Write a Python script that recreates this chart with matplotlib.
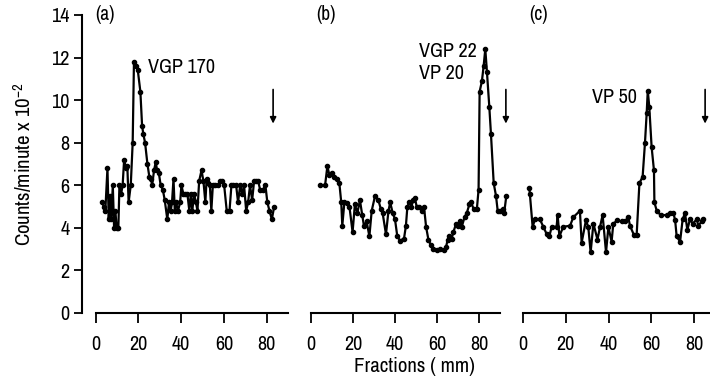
import matplotlib
matplotlib.use("Agg")
import matplotlib.pyplot as plt
from matplotlib import font_manager

# a narrow face is closest to the original typesetting, if one is installed
narrow = [f.name for f in font_manager.fontManager.ttflist
          if "Narrow" in f.name or "Condensed" in f.name]
plt.rcParams["font.family"] = narrow[:1] + ["DejaVu Sans"]
plt.rcParams["font.stretch"] = "condensed"
plt.rcParams["mathtext.default"] = "regular"

# ---- data: fraction number vs counts/minute x 10^-2 ----
a_x = [2.8, 3.9, 4.5, 5.5, 6.1, 6.7, 7.3, 8.0, 8.6, 9.2, 9.8, 10.6, 11.1, 11.9,
       12.6, 13.3, 14.2, 14.8, 15.4, 16.4, 17.3, 17.9, 18.7, 19.7, 20.9, 21.7,
       22.3, 23.1, 24.2, 25.1, 25.9, 26.4, 27.3, 28.1, 28.7, 29.5, 30.4, 31.4,
       32.3, 33.5, 34.3, 35.1, 35.7, 36.4, 37.0, 37.6, 38.5, 39.5, 40.1, 41.0,
       42.0, 42.9, 43.8, 44.5, 45.2, 46.0, 46.9, 47.6, 48.4, 49.5, 50.4, 51.3,
       51.9, 52.6, 53.4, 54.1, 54.8, 56.0, 57.3, 58.2, 59.1, 60.1, 61.3, 62.6,
       63.5, 64.4, 65.7, 66.6, 67.6, 68.5, 69.4, 70.4, 71.3, 72.2, 73.2, 74.1,
       75.0, 76.0, 76.9, 78.2, 79.4, 80.3, 81.3, 82.4, 83.5]
a_y = [5.2, 5.0, 4.8, 6.8, 4.4, 5.5, 4.4, 6.0, 4.0, 4.8, 4.0, 4.0, 6.0, 5.6,
       6.0, 7.2, 6.8, 6.9, 5.2, 6.0, 8.0, 11.8, 11.6, 11.4, 10.4, 8.8,
       8.4, 8.0, 7.0, 6.4, 6.3, 6.0, 6.7, 7.1, 6.7, 6.6, 6.0, 5.8,
       5.3, 4.4, 5.2, 4.8, 5.2, 6.3, 4.8, 5.2, 4.8, 5.2, 6.0, 5.6,
       5.6, 5.6, 4.8, 5.6, 4.8, 5.6, 5.2, 4.8, 6.2, 6.7, 6.2, 5.2,
       6.3, 6.1, 6.0, 4.8, 6.0, 6.0, 6.0, 6.2, 6.2, 6.0, 4.8, 4.8,
       6.0, 6.0, 6.0, 5.2, 6.0, 5.6, 6.0, 4.8, 5.2, 6.0, 5.3, 6.2,
       6.2, 6.2, 5.8, 5.8, 6.0, 5.2, 4.8, 4.4, 5.0]

b_x = [4.3, 6.7, 7.8, 8.7, 9.8, 11.0, 12.2, 13.5, 14.4, 14.9, 15.9, 17.0,
       18.3, 19.8, 20.9, 22.1, 23.3, 24.4, 25.2, 26.5, 27.8, 28.9, 30.5,
       32.1, 33.2, 34.1, 35.7, 36.9, 37.7, 38.9, 40.0, 41.1, 42.4, 44.3,
       45.2, 45.9, 46.8, 47.8, 48.7, 49.5, 50.3, 51.6, 52.7, 53.8, 54.8,
       55.9, 57.0, 58.3, 59.9, 61.5, 63.1, 64.3, 65.1, 65.9, 67.0, 67.8,
       69.1, 70.2, 71.0, 71.8, 73.1, 74.2, 75.4, 76.2, 77.4, 79.0, 79.8,
       80.3, 81.4, 82.2, 83.0, 83.8, 84.9, 85.7, 87.0, 88.1, 88.9, 90.2,
       91.4, 92.0, 93.0]
b_y = [6.0, 6.0, 6.9, 6.5, 6.6, 6.4, 6.3, 6.1, 5.2, 4.1, 5.2, 5.15,
       5.0, 3.8, 5.1, 4.7, 5.3, 4.6, 4.1, 4.3, 3.6, 4.8, 5.5,
       5.3, 4.9, 4.7, 3.7, 4.8, 5.2, 4.7, 4.4, 3.6, 3.4, 3.5,
       4.1, 5.0, 5.2, 5.0, 5.3, 5.4, 5.0, 5.0, 4.8, 5.0, 4.05,
       3.45, 3.2, 3.0, 2.95, 3.0, 2.95, 3.1, 3.45, 3.6, 3.5, 3.8,
       4.2, 4.1, 4.3, 4.05, 4.5, 4.7, 5.1, 5.2, 4.9, 4.9, 5.8,
       10.4, 10.9, 11.6, 12.4, 11.3, 9.7, 8.4, 6.1, 5.5, 4.8, 4.8,
       4.9, 4.7, 5.5]

c_x = [3.0, 3.2, 4.5, 5.6, 7.9, 9.5, 11.1, 12.3, 13.4, 15.7, 16.2, 17.0,
       18.8, 22.0, 23.5, 26.6, 27.4, 29.4, 30.5, 31.6, 32.9, 34.8, 36.0,
       37.2, 38.8, 39.9, 41.4, 42.2, 44.1, 46.1, 47.7, 49.2, 50.0, 51.9,
       53.1, 54.4, 55.9, 57.0, 57.8, 58.3, 59.0, 60.1, 61.2, 61.4, 62.5,
       64.3, 67.1, 68.7, 70.3, 71.1, 71.8, 73.4, 74.6, 75.7, 76.8, 78.0,
       79.3, 81.2, 81.9, 83.5, 84.3]
c_y = [5.85, 5.6, 4.05, 4.4, 4.4, 4.05, 3.7, 3.6, 4.05, 4.05, 4.6, 3.6,
       4.05, 4.1, 4.5, 4.8, 3.3, 4.35, 4.05, 2.85, 4.2, 3.45, 4.05,
       4.6, 2.85, 4.05, 3.35, 4.2, 4.35, 4.3, 4.3, 4.5, 4.1, 3.65,
       3.65, 6.1, 6.4, 8.0, 9.4, 10.45, 9.7, 7.8, 6.7, 5.2, 4.8,
       4.6, 4.6, 4.7, 4.7, 4.35, 3.6, 3.35, 4.4, 4.7, 3.9, 4.4,
       4.2, 4.4, 4.1, 4.3, 4.4]

panel_labels = ["(a)", "(b)", "(c)"]
peak_labels = ["VGP 170", "VGP 22\nVP 20", "VP 50"]
x_ticks = [0, 20, 40, 60, 80]
y_ticks = [0, 2, 4, 6, 8, 10, 12, 14]

W, H = 710, 378
fig = plt.figure(figsize=(W / 100, H / 100), dpi=100)

# pixel layout of each panel: (x0 pixel, px per fraction, xlim, spine end)
y0_px, ytop_px = 313, 15
layout = [
    (95.7, 2.1375, (-6.3, 92.0), 90),
    (311.0, 2.10, (-3.0, 95.0), 90),
    (523.0, 2.14, (-3.0, 87.4), 88),
]
series = [(a_x, a_y), (b_x, b_y), (c_x, c_y)]
arrow_x = [83.0, 92.8, 85.1]
peak_pos = [(24.5, 11.55), (51.4, 11.75), (32.2, 10.14)]
label_x = [0.0, 2.6, 2.8]

for i, ((x0, k, xl, xend), (xs, ys)) in enumerate(zip(layout, series)):
    left = x0 + k * xl[0]
    right = x0 + k * xl[1]
    ax = fig.add_axes([left / W, (H - y0_px) / H, (right - left) / W,
                       (y0_px - ytop_px) / H])
    ax.set_xlim(*xl)
    ax.set_ylim(0, 14)
    ax.plot(xs, ys, color="black", lw=1.6, marker="o", ms=3.0,
            clip_on=False)

    for s in ("top", "right"):
        ax.spines[s].set_visible(False)
    ax.spines["bottom"].set_bounds(0, xend)
    ax.spines["bottom"].set_linewidth(1.5)
    ax.set_xticks(x_ticks)
    ax.tick_params(axis="x", direction="out", length=7, width=1.3,
                   labelsize=14.5, pad=9)
    if i == 0:
        ax.spines["left"].set_bounds(0, 14)
        ax.spines["left"].set_linewidth(1.5)
        ax.set_yticks(y_ticks)
        ax.tick_params(axis="y", direction="out", length=6, width=1.3,
                       labelsize=14.5, pad=3)
        ax.set_ylabel("Counts/minute x 10$^{-2}$", fontsize=15, labelpad=12)
    else:
        ax.spines["left"].set_visible(False)
        ax.set_yticks([])

    ax.text(label_x[i], 14.0, panel_labels[i], fontsize=14, va="center",
            ha="left")
    ax.text(peak_pos[i][0], peak_pos[i][1], peak_labels[i], fontsize=14.5,
            va="center", ha="left", linespacing=1.2)
    ax.annotate("", xy=(arrow_x[i], 8.9), xytext=(arrow_x[i], 10.5),
                arrowprops=dict(arrowstyle="-|>", color="black", lw=1.2,
                                mutation_scale=9, shrinkA=0, shrinkB=0),
                annotation_clip=False)

fig.text(414 / W, 1 - 367 / H, "Fractions ( mm)", fontsize=15,
         ha="center", va="center")

fig.savefig("out.png", dpi=100)
